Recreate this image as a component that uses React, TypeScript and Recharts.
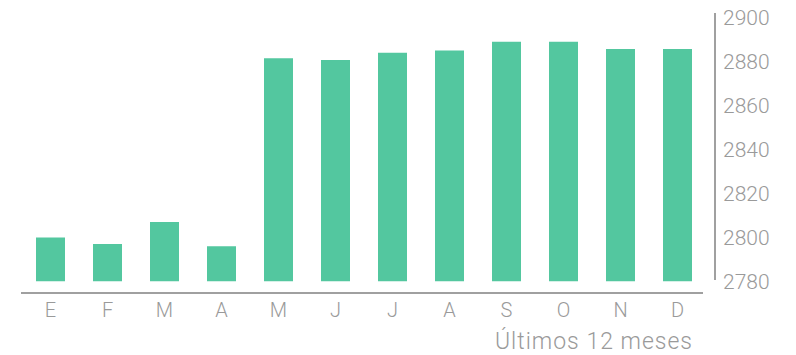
import React from 'react';
import { BarChart, Bar, XAxis, YAxis, Customized } from 'recharts';

const months = ['E', 'F', 'M', 'A', 'M', 'J', 'J', 'A', 'S', 'O', 'N', 'D'];
const values = [2800, 2797, 2807, 2796, 2881.5, 2880.7, 2884, 2885, 2889, 2889, 2885.7, 2885.7];
const yTicks = [2780, 2800, 2820, 2840, 2860, 2880, 2900];
const title = 'Últimos 12 meses';

const data = months.map((m, i) => ({ key: `${m}${i}`, label: m, value: values[i] }));

const FONT = 'Roboto, "Open Sans", "Liberation Sans", sans-serif';
const GRAY = '#9a9a9a';
const LINE = '#a0a0a0';

const Decor = () => (
  <g>
    <line x1={21} x2={703} y1={293} y2={293} stroke={LINE} strokeWidth={2} />
    <line x1={715} x2={715} y1={13} y2={280} stroke={LINE} strokeWidth={2} />
    <text x={693} y={349} textAnchor="end" fill={GRAY} fontSize={23} letterSpacing={1} fontFamily={FONT} fontWeight={300}>
      {title}
    </text>
  </g>
);

export default function App() {
  return (
    <div style={{ position: 'absolute', left: 0, top: 0, width: 796, height: 355, background: '#fff' }}>
      <BarChart
        width={796}
        height={355}
        data={data}
        margin={{ top: 17.5, right: 0, bottom: 0, left: 22 }}
        barSize={29}
      >
        <XAxis
          dataKey="key"
          tickFormatter={(v: string, i: number) => months[i]}
          axisLine={false}
          tickLine={false}
          tickSize={0}
          tickMargin={21}
          height={73.5}
          interval={0}
          tick={{ fill: GRAY, fontSize: 20, fontFamily: FONT, fontWeight: 300 }}
        />
        <YAxis
          orientation="right"
          domain={[2780, 2900]}
          ticks={yTicks}
          allowDataOverflow
          axisLine={false}
          tickLine={false}
          tickSize={0}
          tickMargin={17}
          width={90}
          interval={0}
          tick={{ fill: GRAY, fontSize: 21, fontFamily: FONT, fontWeight: 300 }}
        />
        <Bar dataKey="value" fill="#53C79F" isAnimationActive={false} />
        <Customized component={Decor} />
      </BarChart>
    </div>
  );
}
